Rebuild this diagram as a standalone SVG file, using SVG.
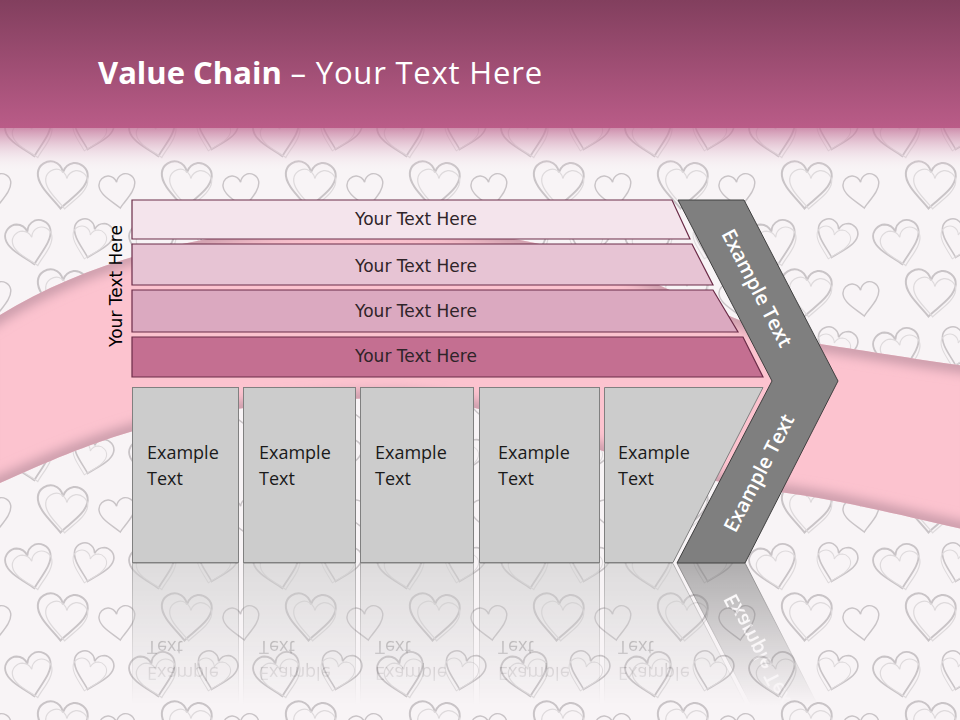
<svg xmlns="http://www.w3.org/2000/svg" xmlns:xlink="http://www.w3.org/1999/xlink" width="960" height="720" viewBox="0 0 960 720">
<defs>
<style>
.bar{stroke:#6b2c48;stroke-width:1.2}
.bartxt{font-family:"DejaVu Sans",Verdana,sans-serif;font-size:17px;fill:#2f2429;text-anchor:middle}
.box{fill:#cccccc;stroke:#808080;stroke-width:1}
.boxtxt{font-family:"Open Sans","Liberation Sans",sans-serif;font-size:18px;fill:#1a1a1a}
.chev{fill:#7f7f7f;stroke:#404040;stroke-width:1}
.chevtxt{font-family:"Open Sans","Liberation Sans",sans-serif;font-size:20px;font-weight:600;fill:#ffffff;text-anchor:middle}
.heart{fill:none;stroke:#c9c4c7;stroke-width:1.6}
.heart2{fill:none;stroke:#dedadc;stroke-width:1.2}
</style>
<path id="h" d="M0,18 C-7,10 -20,1 -20,-9 C-20,-16 -13,-20 -8,-19 C-4,-18 -1,-15 0,-11 C1,-15 4,-18 8,-19 C13,-20 20,-16 20,-9 C20,1 7,10 0,18 Z"/>
<pattern id="hearts" patternUnits="userSpaceOnUse" width="124" height="108">
<rect width="124" height="108" fill="#f8f4f6"/>
<use href="#h" class="heart" transform="translate(30,28) rotate(-12) scale(1.15)"/>
<use href="#h" class="heart2" transform="translate(34,32) rotate(-12) scale(1)"/>
<use href="#h" class="heart" transform="translate(92,24) rotate(14) scale(1)"/>
<use href="#h" class="heart2" transform="translate(88,28) rotate(14) scale(0.85)"/>
<use href="#h" class="heart" transform="translate(62,78) rotate(4) scale(1.25)"/>
<use href="#h" class="heart2" transform="translate(66,82) rotate(4) scale(1.05)"/>
<use href="#h" class="heart" transform="translate(118,84) rotate(-8) scale(0.9)"/>
<use href="#h" class="heart" transform="translate(-6,84) rotate(-8) scale(0.9)"/>
</pattern>
<linearGradient id="hdr" x1="0" y1="0" x2="0" y2="1">
<stop offset="0" stop-color="#823f5e"/>
<stop offset="1" stop-color="#ba5c88"/>
</linearGradient>
<linearGradient id="hdrFade" x1="0" y1="0" x2="0" y2="1">
<stop offset="0" stop-color="#c06d94" stop-opacity="0.75"/>
<stop offset="1" stop-color="#f3e6ec" stop-opacity="0"/>
</linearGradient>
<clipPath id="ribClip"><path d="M-20,328 C120,232 330,205 520,240 C640,262 730,330 820,344 C880,353 920,360 980,368 L980,533 C900,515 840,500 780,492 C700,480 640,465 600,450 C520,420 470,400 400,398 C300,398 200,410 130,432 C80,447 40,465 -20,492 Z"/></clipPath>
<filter id="soft" x="-10%" y="-10%" width="120%" height="120%"><feGaussianBlur stdDeviation="6"/></filter>
<linearGradient id="fadeGrad" gradientUnits="userSpaceOnUse" x1="0" y1="563" x2="0" y2="705">
<stop offset="0" stop-color="#ffffff" stop-opacity="0.6"/>
<stop offset="1" stop-color="#ffffff" stop-opacity="0"/>
</linearGradient>
<mask id="fade" maskUnits="userSpaceOnUse" x="0" y="563" width="960" height="157">
<rect x="0" y="563" width="960" height="157" fill="url(#fadeGrad)"/>
</mask>
</defs>

<g id="background">
<rect x="0" y="0" width="960" height="720" fill="url(#hearts)"/>
<g clip-path="url(#ribClip)">
<rect x="0" y="200" width="960" height="360" fill="#fcc3cf"/>
<path d="M-20,328 C120,232 330,205 520,240 C640,262 730,330 820,344 C880,353 920,360 980,368 L980,533 C900,515 840,500 780,492 C700,480 640,465 600,450 C520,420 470,400 400,398 C300,398 200,410 130,432 C80,447 40,465 -20,492 Z" fill="none" stroke="#c79aa8" stroke-width="14" filter="url(#soft)"/>
</g>
<rect x="0" y="0" width="960" height="128" fill="url(#hdr)"/>
<rect x="0" y="128" width="960" height="42" fill="url(#hdrFade)"/>
</g>

<g id="title">
<text x="98" y="84" font-family="'Open Sans','Liberation Sans',sans-serif" font-size="31" fill="#ffffff"><tspan font-weight="700">Value Chain</tspan><tspan letter-spacing="0.8"> – Your Text Here</tspan></text>
</g>

<g id="side-label">
<text class="bartxt" transform="translate(122,286) rotate(-90)" style="fill:#000000">Your Text Here</text>
</g>

<g id="bar1">
<polygon class="bar" fill="#f4e4ec" points="132,200 672,200 690,239 132,239"/>
<text class="bartxt" x="416" y="225">Your Text Here</text>
</g>
<g id="bar2">
<polygon class="bar" fill="#e7c4d4" points="132,244 692,244 713,285 132,285"/>
<text class="bartxt" x="416" y="272">Your Text Here</text>
</g>
<g id="bar3">
<polygon class="bar" fill="#dba9c0" points="132,290 713,290 738,332 132,332"/>
<text class="bartxt" x="416" y="317">Your Text Here</text>
</g>
<g id="bar4">
<polygon class="bar" fill="#c46f91" points="132,337 743,337 763,377 132,377"/>
<text class="bartxt" x="416" y="362">Your Text Here</text>
</g>

<g id="boxes">
<g id="box1">
<rect class="box" x="132.5" y="387.5" width="106" height="175"/>
<text class="boxtxt" x="147" y="459">Example<tspan x="147" y="485">Text</tspan></text>
</g>
<g id="box2">
<rect class="box" x="243.5" y="387.5" width="112" height="175"/>
<text class="boxtxt" x="259" y="459">Example<tspan x="259" y="485">Text</tspan></text>
</g>
<g id="box3">
<rect class="box" x="360.5" y="387.5" width="113" height="175"/>
<text class="boxtxt" x="375" y="459">Example<tspan x="375" y="485">Text</tspan></text>
</g>
<g id="box4">
<rect class="box" x="479.5" y="387.5" width="120" height="175"/>
<text class="boxtxt" x="498" y="459">Example<tspan x="498" y="485">Text</tspan></text>
</g>
<g id="box5">
<polygon class="box" points="604.5,387.5 763,387.5 673,562.5 604.5,562.5"/>
<text class="boxtxt" x="618" y="459">Example<tspan x="618" y="485">Text</tspan></text>
</g>
</g>

<g id="chevron">
<polygon class="chev" points="678,200 744,200 838,381 745,563 677,563 772,381"/>
<text class="chevtxt" transform="translate(757,288) rotate(62.6)" dy="0.35em">Example Text</text>
<text class="chevtxt" transform="translate(759,473) rotate(-62.6)" dy="0.35em">Example Text</text>
</g>

<g id="reflection" mask="url(#fade)">
<use href="#boxes" transform="matrix(1,0,0,-1,0,1126)"/>
<use href="#chevron" transform="matrix(1,0,0,-1,0,1126)"/>
</g>

<g id="connectors"/>
</svg>
